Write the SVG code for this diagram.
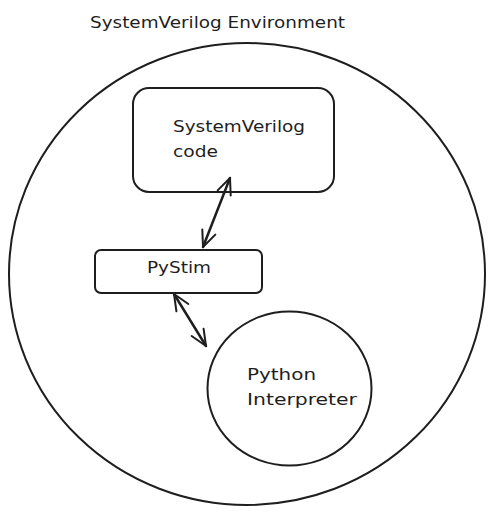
<svg xmlns="http://www.w3.org/2000/svg" width="495" height="515" viewBox="0 0 495 515">
<style>
.shape{fill:none;stroke:#1e1e1e;stroke-width:2;stroke-linecap:round;stroke-linejoin:round}
.lbl{font-family:"DejaVu Sans","Liberation Sans",Arial,sans-serif;font-size:16px;fill:#1e1e1e}
.conn{fill:none;stroke:#1e1e1e;stroke-width:2.5;stroke-linecap:round}
</style>
<defs>
<marker id="ah" viewBox="0 0 20 20" refX="18" refY="10" markerWidth="20" markerHeight="20" markerUnits="userSpaceOnUse" orient="auto-start-reverse">
<path d="M2,3 L18,10 L2,17" fill="none" stroke="#1e1e1e" stroke-width="2" stroke-linecap="round" stroke-linejoin="round"/>
</marker>
</defs>
<rect width="495" height="515" fill="#ffffff"/>
<g id="environment">
<ellipse class="shape" cx="247" cy="274" rx="238" ry="231"/>
<text class="lbl" x="90" y="28" textLength="255" lengthAdjust="spacingAndGlyphs">SystemVerilog Environment</text>
</g>
<g id="sv-code">
<rect class="shape" x="133" y="88" width="201" height="104" rx="16"/>
<text class="lbl" x="173" y="132" textLength="132" lengthAdjust="spacingAndGlyphs">SystemVerilog</text>
<text class="lbl" x="173" y="157" textLength="45" lengthAdjust="spacingAndGlyphs">code</text>
</g>
<g id="pystim">
<rect class="shape" x="95" y="250" width="167" height="43" rx="6"/>
<text class="lbl" x="147" y="273" textLength="64" lengthAdjust="spacingAndGlyphs">PyStim</text>
</g>
<g id="python">
<ellipse class="shape" cx="289.5" cy="388.5" rx="82" ry="77"/>
<text class="lbl" x="247" y="380" textLength="69" lengthAdjust="spacingAndGlyphs">Python</text>
<text class="lbl" x="247" y="405" textLength="110" lengthAdjust="spacingAndGlyphs">Interpreter</text>
</g>
<g id="connectors">
<line class="conn" x1="230" y1="178" x2="203" y2="247" marker-start="url(#ah)" marker-end="url(#ah)"/>
<line class="conn" x1="174" y1="294" x2="206" y2="346" marker-start="url(#ah)" marker-end="url(#ah)"/>
</g>
</svg>
